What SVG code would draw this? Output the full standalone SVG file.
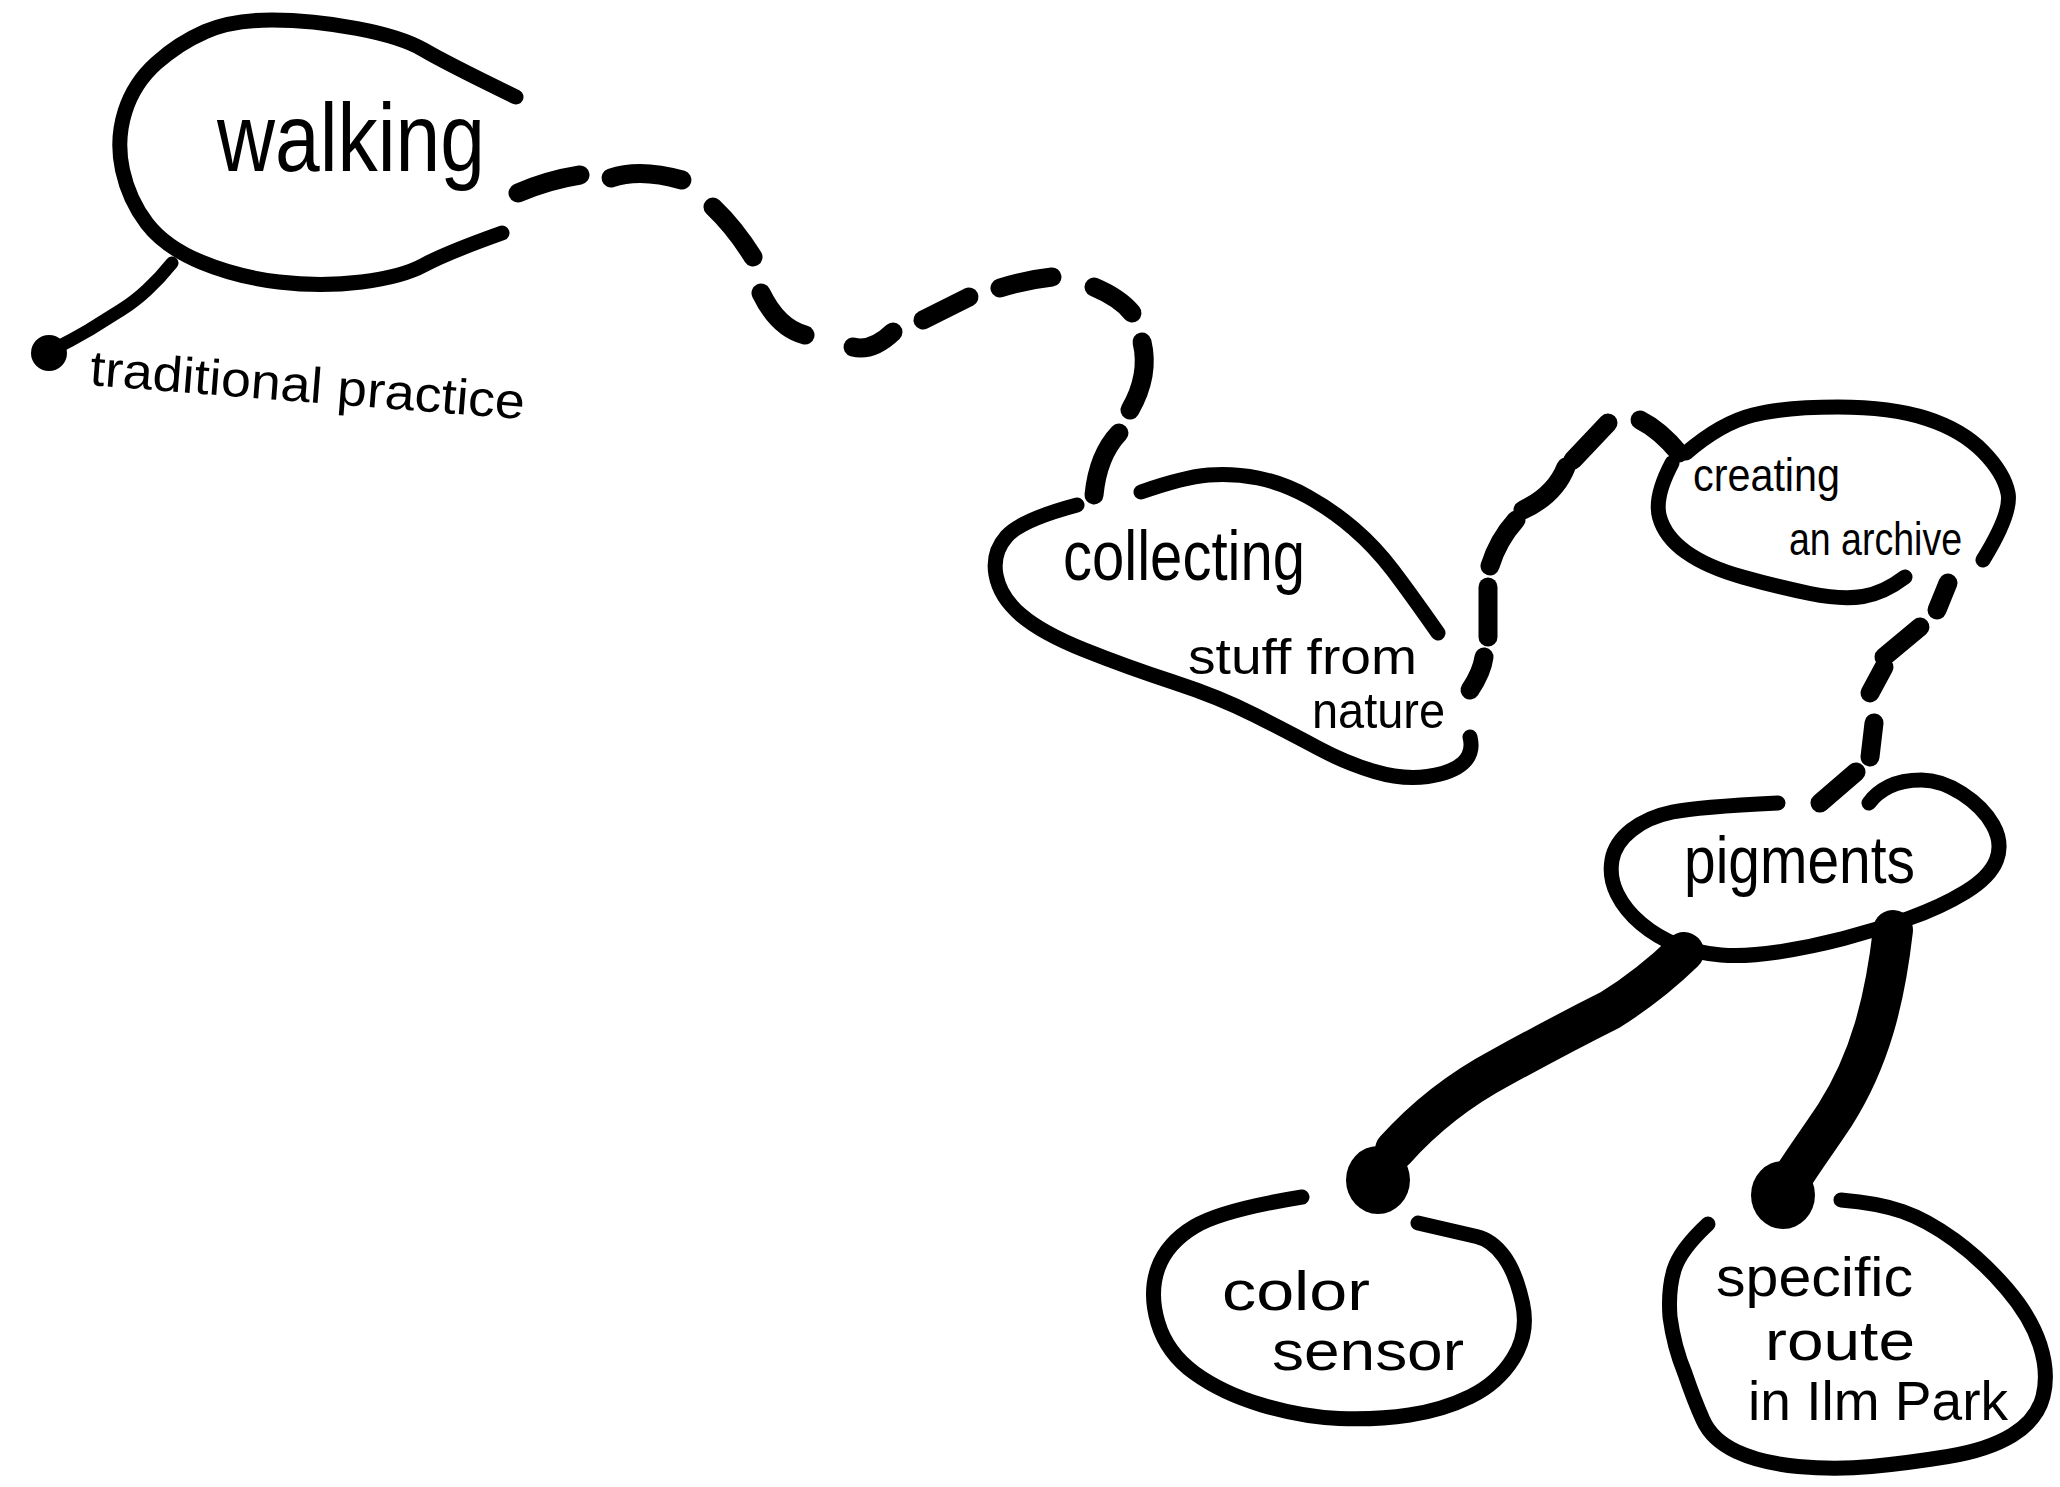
<svg xmlns="http://www.w3.org/2000/svg" width="2060" height="1487" viewBox="0 0 2060 1487">
<style>
.outline{fill:none;stroke:#000;stroke-width:15;stroke-linecap:round;stroke-linejoin:round}
.dash{fill:none;stroke:#000;stroke-width:19;stroke-linecap:round}
.thick{fill:none;stroke:#000;stroke-width:40;stroke-linecap:round;stroke-linejoin:round}
.tail{fill:none;stroke:#000;stroke-width:13;stroke-linecap:round;stroke-linejoin:round}
.dot{fill:#000}
text{font-family:"Liberation Sans","DejaVu Sans",sans-serif;fill:#000}
</style>
<rect width="2060" height="1487" fill="#fff"/>
<g id="connectors">
  <path class="tail" d="M172,263 Q160,278 147,290 Q134,302 121,310 Q105,320 89,330 Q72,340 52,350"/>
  <circle class="dot" cx="49" cy="353" r="18"/>
  <g id="dash-walking-collecting">
    <path class="dash" d="M518,193 Q548,180 580,175"/>
    <path class="dash" d="M611,178 Q640,168 682,180"/>
    <path class="dash" d="M713,207 Q735,228 753,257"/>
    <path class="dash" d="M761,293 Q778,328 805,335"/>
    <path class="dash" d="M853,347 Q872,352 893,332"/>
    <path class="dash" d="M923,320 L969,297"/>
    <path class="dash" d="M1000,288 Q1025,280 1052,277"/>
    <path class="dash" d="M1094,287 Q1120,298 1132,313"/>
    <path class="dash" d="M1142,342 Q1150,375 1130,410"/>
    <path class="dash" d="M1119,433 Q1098,455 1094,495"/>
  </g>
  <g id="dash-collecting-creating">
    <path class="dash" d="M1470,690 Q1482,672 1484,657"/>
    <path class="dash" d="M1488,587 L1488,637"/>
    <path class="dash" d="M1490,566 Q1498,540 1516,520"/>
    <path class="dash" d="M1523,510 Q1555,495 1566,467"/>
    <path class="dash" d="M1573,460 L1608,423"/>
    <path class="dash" d="M1640,420 Q1660,430 1679,453"/>
  </g>
  <g id="dash-creating-pigments">
    <path class="dash" d="M1948,583 L1937,610"/>
    <path class="dash" d="M1920,627 L1884,657"/>
    <path class="dash" d="M1884,667 L1870,693"/>
    <path class="dash" d="M1874,723 L1870,757"/>
    <path class="dash" d="M1856,772 L1820,803"/>
  </g>
  <g id="pigments-colorsensor">
    <path class="thick" d="M1684,952 Q1650,985 1610,1010 Q1560,1035 1500,1068 Q1440,1100 1395,1150"/>
    <ellipse class="dot" cx="1378" cy="1180" rx="32" ry="34"/>
  </g>
  <g id="pigments-specific">
    <path class="thick" d="M1893,930 C1885,1000 1870,1060 1835,1115 C1815,1145 1800,1165 1788,1185"/>
    <ellipse class="dot" cx="1783" cy="1195" rx="32" ry="34"/>
  </g>
</g>
<g id="node-walking">
  <path class="outline" d="M516,97 Q446,63 424,50 Q402,37 357,28.5 Q312,20 272,20 Q232,20 205.5,31.5 Q179,43 156.5,63 Q134,83 125,111.5 Q116,140 122.5,170 Q129,200 147,223.5 Q165,247 201,262 Q237,277 279,282 Q321,287 361.5,282 Q402,277 424,265 Q446,253 502,233"/>
  <text x="217" y="171" font-size="96" textLength="268" lengthAdjust="spacingAndGlyphs">walking</text>
</g>
<g id="label-traditional">
  <text x="89" y="385" font-size="50" textLength="436" lengthAdjust="spacingAndGlyphs" transform="rotate(4.5 89 385)">traditional practice</text>
</g>
<g id="node-collecting">
  <path class="outline" d="M1077,505 Q1021,520 1006.5,536.5 Q992,553 996,575 Q1000,597 1021,615 Q1042,633 1084.5,650 Q1127,667 1173,682 Q1219,697 1254.5,715 Q1290,733 1318,748 Q1346,763 1374.5,771.5 Q1403,780 1427.5,776.5 Q1452,773 1463,763 Q1474,753 1470,737"/>
  <path class="outline" d="M1141,492 Q1184,477 1208.5,475 Q1233,473 1258,478 Q1283,483 1307.5,496.5 Q1332,510 1353.5,528.5 Q1375,547 1392.5,570 Q1410,593 1438,633"/>
  <text x="1063" y="580" font-size="70" textLength="242" lengthAdjust="spacingAndGlyphs">collecting</text>
  <text x="1188" y="674" font-size="50" textLength="229" lengthAdjust="spacingAndGlyphs">stuff from</text>
  <text x="1312" y="728" font-size="50" textLength="133" lengthAdjust="spacingAndGlyphs">nature</text>
</g>
<g id="node-creating">
  <path class="outline" d="M1686,453 Q1721,423 1753,415 Q1785,407 1838,407 Q1891,407 1926.5,418.5 Q1962,430 1983,451.5 Q2004,473 2008,493 Q2012,513 1983,560"/>
  <path class="outline" d="M1672,463 Q1654,497 1659.5,517 Q1665,537 1686,552 Q1707,567 1742.5,577 Q1778,587 1810,593.5 Q1842,600 1863,596.5 Q1884,593 1905,577"/>
  <text x="1693" y="491" font-size="46" textLength="147" lengthAdjust="spacingAndGlyphs">creating</text>
  <text x="1789" y="555" font-size="46" textLength="173" lengthAdjust="spacingAndGlyphs">an archive</text>
</g>
<g id="node-pigments">
  <path class="outline" d="M1778,803 Q1697,807 1672.5,812 Q1648,817 1631.5,830 Q1615,843 1612,860 Q1609,877 1617,893.5 Q1625,910 1641,923.5 Q1657,937 1677,945 Q1697,953 1721,955 Q1745,957 1778,952 Q1811,947 1843.5,938.5 Q1876,930 1908.5,918.5 Q1941,907 1965.5,892 Q1990,877 1996.5,860 Q2003,843 1993,825 Q1983,807 1962,793.5 Q1941,780 1921.5,780 Q1902,780 1889,786.5 Q1876,793 1869,803"/>
  <text x="1684" y="883" font-size="66" textLength="231" lengthAdjust="spacingAndGlyphs">pigments</text>
</g>
<g id="node-colorsensor">
  <path class="outline" d="M1302,1197 Q1222,1210 1194.5,1226.5 Q1167,1243 1158,1268 Q1149,1293 1158,1323 Q1167,1353 1194.5,1373 Q1222,1393 1262,1405 Q1302,1417 1339,1418.5 Q1376,1420 1409.5,1415 Q1443,1410 1470.5,1396.5 Q1498,1383 1513.5,1358 Q1529,1333 1522.5,1303 Q1516,1273 1504,1256.5 Q1492,1240 1476.5,1236.5 Q1461,1233 1418,1223"/>
  <text x="1222" y="1310" font-size="56" textLength="148" lengthAdjust="spacingAndGlyphs">color</text>
  <text x="1272" y="1370" font-size="56" textLength="192" lengthAdjust="spacingAndGlyphs">sensor</text>
</g>
<g id="node-specific">
  <path class="outline" d="M1708,1224 Q1680,1250 1674,1270 Q1668,1290 1670,1317 Q1674,1347 1685,1373.5 Q1694,1400 1703,1420 Q1712,1440 1736.5,1451.5 Q1761,1463 1798,1466.5 Q1835,1470 1871.5,1466.5 Q1908,1463 1948,1456.5 Q1988,1450 2012.5,1435 Q2037,1420 2043,1396.5 Q2049,1373 2040,1345 Q2031,1317 2006.5,1288.5 Q1982,1260 1954.5,1240 Q1927,1220 1902.5,1211.5 Q1878,1203 1841,1200"/>
  <text x="1716" y="1296" font-size="56" textLength="197" lengthAdjust="spacingAndGlyphs">specific</text>
  <text x="1765" y="1360" font-size="56" textLength="150" lengthAdjust="spacingAndGlyphs">route</text>
  <text x="1748" y="1420" font-size="56" textLength="260" lengthAdjust="spacingAndGlyphs">in Ilm Park</text>
</g>
</svg>
